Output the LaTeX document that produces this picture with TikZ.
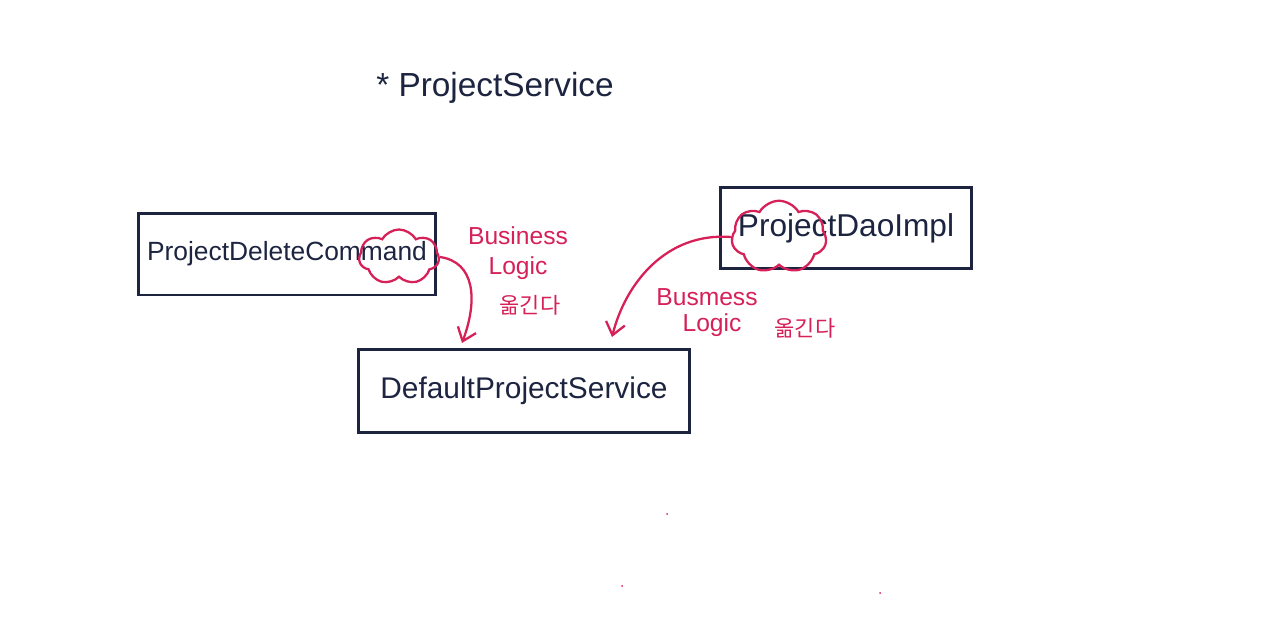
\documentclass[tikz,border=0pt]{standalone}
\usepackage{fontspec}
\setmainfont{Liberation Sans}
\newfontfamily\kofont{Noto Sans CJK KR}
\usetikzlibrary{positioning}
\usetikzlibrary{shapes.symbols}
\usetikzlibrary{arrows.meta}
\definecolor{inkblue}{RGB}{28,36,64}
\definecolor{inkred}{RGB}{214,32,88}

\begin{document}
\begin{tikzpicture}[
        x=0.02cm, y=-0.02cm,
        classbox/.style={draw=inkblue, line width=1.7pt, inner sep=0, text=inkblue,
                         font=\fontsize{15}{18}\selectfont},
        markcloud/.style={cloud, cloud puffs=7, cloud puff arc=120, aspect=1.5, draw=inkred,
                     line width=1.3pt, inner sep=0},
        note/.style={text=inkred, font=\fontsize{14}{16}\selectfont, inner sep=0},
        konote/.style={text=inkred, font=\kofont\fontsize{12.5}{14}\selectfont, inner sep=0},
        move/.style={->, draw=inkred, line width=1.3pt},
        >={Straight Barb[length=7pt, width=11pt, line width=1.3pt]}
    ]
        \useasboundingbox (0,0) rectangle (1280,635);

        % 제목
        \node[text=inkblue, font=\fontsize{19}{22}\selectfont] (title) at (495,88) {* ProjectService};

        % 클래스 상자
        \node[classbox, minimum width=5.96cm, minimum height=1.64cm] (cmd) at (287,254) {ProjectDeleteCommand};
        \node[classbox, minimum width=5.04cm, minimum height=1.62cm,
              font=\fontsize{18}{21}\selectfont] (dao) at (846,228) {ProjectDaoImpl};
        \node[classbox, minimum width=6.64cm, minimum height=1.66cm,
              font=\fontsize{17}{20}\selectfont] (svc) at (524,391) {DefaultProjectService};

        % 표시한 부분
        \node[markcloud, minimum width=1.6cm, minimum height=1.1cm] (cmdmark) at (399,257) {};
        \node[markcloud, minimum width=1.9cm, minimum height=1.45cm] (daomark) at (779,237) {};

        % 도착점
        \coordinate (svcin1) at (462,343);
        \coordinate (svcin2) at (612,337);

        % 옮기는 화살표
        \draw[move] (cmdmark.east) .. controls (475,262) and (478,300) .. (svcin1);
        \draw[move] (daomark.west) .. controls (665,232) and (625,285) .. (svcin2);

        % 메모
        \node[note] (bl1a) at (518,236) {Business};
        \node[note] (bl1b) at (518,268) {Logic};
        \node[konote] (mv1) at (530,305) {옮긴다};
        \node[note] (bl2a) at (707,297) {Busmess};
        \node[note] (bl2b) at (712,325) {Logic};
        \node[konote] (mv2) at (805,328) {옮긴다};

        % 작은 점
        \foreach \px/\py in {667/514, 622/586, 880/593} {
            \fill[inkred] (\px,\py) circle (1);
        }
    \end{tikzpicture}
\end{document}
